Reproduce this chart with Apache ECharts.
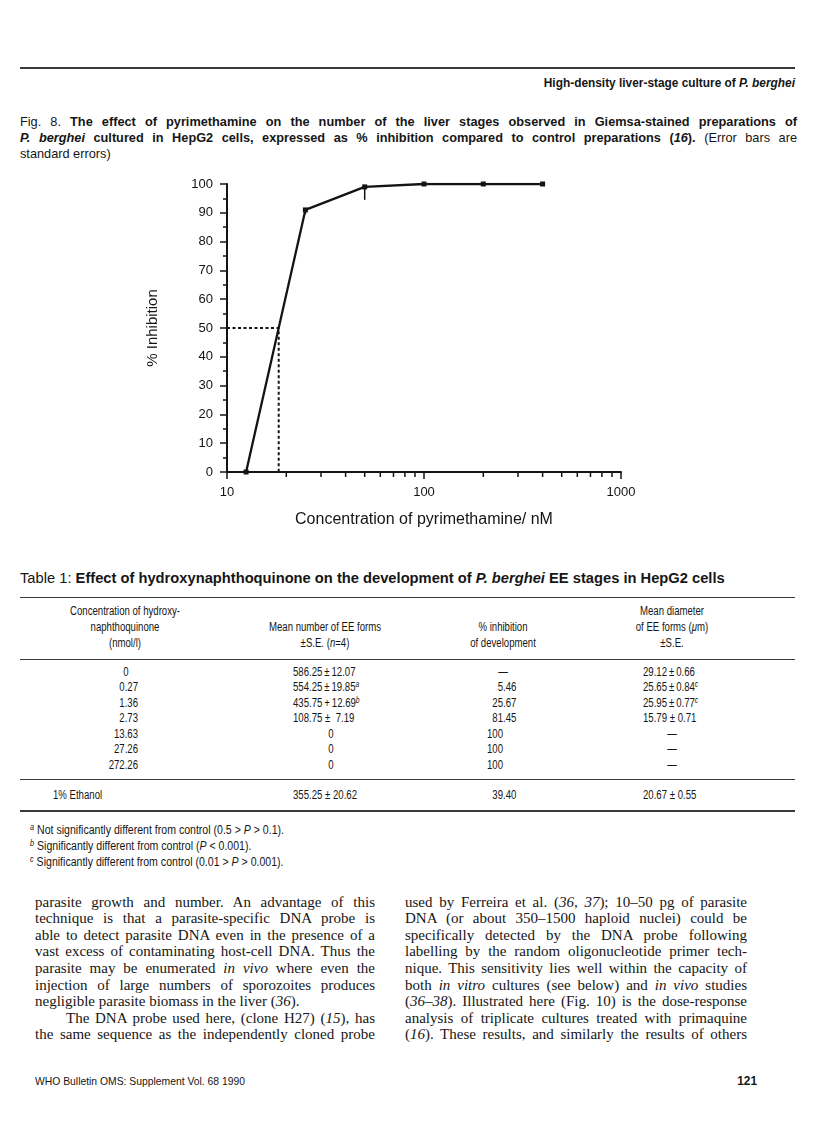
<!DOCTYPE html>
<html><head><meta charset="utf-8">
<script src="https://cdn.jsdelivr.net/npm/echarts@6/dist/echarts.min.js"></script>
<style>
html,body{margin:0;padding:0;background:#fff;}
#page{position:relative;width:816px;height:1126px;overflow:hidden;background:#fff;color:#161616;}
.t{position:absolute;white-space:nowrap;transform-origin:0 0;}
.rule{position:absolute;background:#3a3a3a;}
#chart{position:absolute;left:120px;top:160px;width:540px;height:390px;}
sup{font-size:70%;line-height:0;vertical-align:0.45em;font-style:italic;}
</style></head><body><div id="page"><div id="chart"></div></div>
<script>
// ---------------- chart data (Fig. 8) ----------------
const concentration = [12.5, 25, 50, 100, 200, 400];   // nM pyrimethamine
const inhibition    = [0, 91, 99, 100, 100, 100];       // % inhibition
const stdError      = [0, 1.5, 4.5, 0, 0, 0];           // error bars (lower)
const ic50 = 18.3;                                       // dotted 50% read-off
const halfLevel = 50;
const xMinorTicks = [20,30,40,50,60,70,80,90,200,300,400,500,600,700,800,900];

// ---------------- table data (Table 1) ----------------
const tabConc = ['0','0.27','1.36','2.73','13.63','27.26','272.26'];
const tabMean = ['586.25\u2009±\u200912.07','554.25\u2009±\u200919.85<sup>a</sup>','435.75\u2009+\u200912.69<sup>b</sup>','108.75 ± &nbsp;7.19','0','0','0'];
const tabInhib = ['—','5.46','25.67','81.45','100','100','100'];
const tabDiam = ['29.12\u2009±\u20090.66','25.65\u2009±\u20090.84<sup>c</sup>','25.95\u2009±\u20090.77<sup>c</sup>','15.79 ± 0.71','—','—','—'];
const ethanolRow = ['1% Ethanol','355.25 ± 20.62','39.40','20.67 ± 0.55'];

const page = document.getElementById('page');
function T(html, x, y, o) {
  o = o || {};
  const size = o.size || 11, lh = o.lh || Math.round(size * 1.25), sx = o.sx || 1;
  const d = document.createElement('div');
  d.className = 't';
  d.style.fontSize = size + 'px';
  d.style.lineHeight = lh + 'px';
  d.style.top = (y - lh / 2) + 'px';
  d.style.left = x + 'px';
  d.style.fontFamily = o.serif ? '"Liberation Serif","Times New Roman",serif' : '"Liberation Sans",Arial,Helvetica,sans-serif';
  if (o.bold) d.style.fontWeight = 'bold';
  let tr = sx !== 1 ? 'scaleX(' + sx + ')' : '';
  if (o.align === 'center') tr += ' translateX(-50%)';
  else if (o.align === 'right') tr += ' translateX(-100%)';
  else if (o.align === 'justify') {
    d.style.width = (o.w / sx) + 'px';
    d.style.whiteSpace = 'normal';
    d.style.textAlign = 'justify';
    d.style.textAlignLast = 'justify';
  }
  d.style.transform = tr;
  d.innerHTML = html;
  page.appendChild(d);
}
function R(x, y, w, h) {
  const d = document.createElement('div');
  d.className = 'rule';
  d.style.left = x + 'px'; d.style.top = y + 'px';
  d.style.width = w + 'px'; d.style.height = h + 'px';
  page.appendChild(d);
}

// ---------------- page header & caption ----------------
R(20, 67, 775, 1.5);
T('<b>High-density liver-stage culture of <i>P. berghei</i></b>', 795, 83, {size: 12.5, sx: 0.95, align: 'right'});
const CAP = {size: 13, sx: 0.98, align: 'justify', w: 777};
T('Fig. 8. <b>The effect of pyrimethamine on the number of the liver stages observed in Giemsa-stained preparations of</b>', 20, 122, CAP);
T('<b><i>P. berghei</i> cultured in HepG2 cells, expressed as % inhibition compared to control preparations (<i>16</i>).</b> (Error bars are', 20, 138, CAP);
T('standard errors)', 20, 154, {size: 13, sx: 0.98});

// ---------------- table ----------------
T('Table 1: <b>Effect of hydroxynaphthoquinone on the development of <i>P. berghei</i> EE stages in HepG2 cells</b>', 20, 578, {size: 14, sx: 1.05});
R(20, 597, 775, 1.2);
const HS = {size: 12, sx: 0.8, align: 'center'};
const c1 = 125, c2 = 325, c3 = 503, c4 = 672;
const hy = [611, 627, 643];
T('Concentration of hydroxy-', c1, hy[0], HS);
T('naphthoquinone', c1, hy[1], HS);
T('(nmol/l)', c1, hy[2], HS);
T('Mean number of EE forms', c2, hy[1], HS);
T('±S.E. (<i>n</i>=4)', c2, hy[2], HS);
T('% inhibition', c3, hy[1], HS);
T('of development', c3, hy[2], HS);
T('Mean diameter', c4, hy[0], HS);
T('of EE forms (<i>μ</i>m)', c4, hy[1], HS);
T('±S.E.', c4, hy[2], HS);
R(20, 659, 775, 1.2);
const DS = {size: 12, sx: 0.8};
function decimalCell(v, xDot, y) {
  if (v === '—') { T('—', xDot, y, Object.assign({}, DS, {align: 'center'})); return; }
  const parts = v.split('.');
  T(parts[0], xDot, y, Object.assign({}, DS, {align: 'right'}));
  if (parts.length > 1) T('.' + parts[1], xDot, y, DS);
}
function row(cells, y, first) {
  if (first) T(cells[0], 53, y, DS);
  else if (cells[0] === '0') T('0', 126, y, Object.assign({}, DS, {align: 'center'}));
  else T(cells[0], 138, y, Object.assign({}, DS, {align: 'right'}));
  if (cells[1] === '0') T('0', 331, y, Object.assign({}, DS, {align: 'center'}));
  else T(cells[1], 293, y, DS);
  decimalCell(cells[2], 503, y);
  if (cells[3] === '—') T('—', 672, y, Object.assign({}, DS, {align: 'center'}));
  else T(cells[3], 643, y, DS);
}
const rowY = [672, 687.5, 703, 718.5, 734, 749.5, 765];
for (let i = 0; i < tabConc.length; i++) row([tabConc[i], tabMean[i], tabInhib[i], tabDiam[i]], rowY[i], false);
R(20, 779, 775, 1.2);
row(ethanolRow, 795, true);
R(20, 810, 775, 2);
const FS = {size: 12, sx: 0.88};
T('<sup>a</sup> Not significantly different from control (0.5 &gt; <i>P</i> &gt; 0.1).', 30, 830, FS);
T('<sup>b</sup> Significantly different from control (<i>P</i> &lt; 0.001).', 30, 846, FS);
T('<sup>c</sup> Significantly different from control (0.01 &gt; <i>P</i> &gt; 0.001).', 30, 862, FS);

// ---------------- body text ----------------
const leftCol = [
  'parasite growth and number. An advantage of this',
  'technique is that a parasite-specific DNA probe is',
  'able to detect parasite DNA even in the presence of a',
  'vast excess of contaminating host-cell DNA. Thus the',
  'parasite may be enumerated <i>in vivo</i> where even the',
  'injection of large numbers of sporozoites produces',
  'negligible parasite biomass in the liver (<i>36</i>).',
  'The DNA probe used here, (clone H27) (<i>15</i>), has',
  'the same sequence as the independently cloned probe'
];
const rightCol = [
  'used by Ferreira et al. (<i>36</i>, <i>37</i>); 10–50 pg of parasite',
  'DNA (or about 350–1500 haploid nuclei) could be',
  'specifically detected by the DNA probe following',
  'labelling by the random oligonucleotide primer tech-',
  'nique. This sensitivity lies well within the capacity of',
  'both <i>in vitro</i> cultures (see below) and <i>in vivo</i> studies',
  '(<i>36–38</i>). Illustrated here (Fig. 10) is the dose-response',
  'analysis of triplicate cultures treated with primaquine',
  '(<i>16</i>). These results, and similarly the results of others'
];
const BS = {size: 15, lh: 17, serif: true};
for (let i = 0; i < leftCol.length; i++) {
  const y = 902 + i * 16.6;
  if (i === 6) T(leftCol[i], 35, y, BS);
  else if (i === 7) T(leftCol[i], 66, y, Object.assign({}, BS, {align: 'justify', w: 309}));
  else T(leftCol[i], 35, y, Object.assign({}, BS, {align: 'justify', w: 340}));
}
for (let i = 0; i < rightCol.length; i++) {
  const y = 902 + i * 16.6;
  T(rightCol[i], 405, y, Object.assign({}, BS, {align: 'justify', w: 342}));
}

// ---------------- footer ----------------
T('WHO Bulletin OMS: Supplement Vol. 68 1990', 35, 1081, {size: 11.5, sx: 0.9});
T('<b>121</b>', 757, 1081, {size: 12.5, sx: 0.95, align: 'right'});

// ---------------- chart ----------------
const FONT = '"Liberation Sans", Arial, Helvetica, sans-serif';
const INK = '#141414';
const chart = echarts.init(document.getElementById('chart'), null, {renderer: 'canvas'});
chart.setOption({
  animation: false,
  grid: {left: 107, top: 24, width: 394, height: 288, outerBoundsMode: 'none'},
  xAxis: {
    type: 'log', logBase: 10, min: 10, max: 1000,
    axisLine: {show: true, onZero: false, lineStyle: {color: INK, width: 2}},
    axisTick: {show: true, length: 7, lineStyle: {color: INK, width: 1.5}},
    axisLabel: {fontSize: 13, color: INK, margin: 14, fontFamily: FONT, formatter: function (v) { return String(Math.round(v)); }},
    splitLine: {show: false},
    name: 'Concentration of pyrimethamine/ nM', nameLocation: 'middle', nameGap: 40,
    nameTextStyle: {fontSize: 16, color: INK, fontFamily: FONT}
  },
  yAxis: {
    type: 'value', min: 0, max: 100, interval: 10,
    axisLine: {show: true, onZero: false, lineStyle: {color: INK, width: 2}},
    axisTick: {show: true, length: 7, lineStyle: {color: INK, width: 1.5}},
    minorTick: {show: true, splitNumber: 2, length: 4, lineStyle: {color: INK, width: 1.5}},
    axisLabel: {fontSize: 13, color: INK, margin: 14, fontFamily: FONT},
    splitLine: {show: false}, minorSplitLine: {show: false},
    name: '% Inhibition', nameLocation: 'middle', nameGap: 67, nameRotate: 90,
    nameTextStyle: {fontSize: 15, color: INK, fontFamily: FONT}
  },
  series: [
    {
      type: 'line', data: [[10, halfLevel], [ic50, halfLevel], [ic50, 0]],
      symbol: 'none', silent: true, z: 2,
      lineStyle: {color: INK, width: 2, type: [3, 2.5]}
    },
    {
      type: 'line', data: concentration.map(function (c, i) { return [c, inhibition[i]]; }),
      symbol: 'rect', symbolSize: 5, z: 3, silent: true,
      itemStyle: {color: INK}, lineStyle: {color: INK, width: 2.3}
    },
    {
      type: 'custom', z: 4, silent: true,
      data: concentration.map(function (c, i) { return [c, inhibition[i], inhibition[i] - stdError[i]]; }).filter(function (d, i) { return stdError[i] > 0; }),
      renderItem: function (params, api) {
        const a = api.coord([api.value(0), api.value(1)]);
        const b = api.coord([api.value(0), api.value(2)]);
        return {type: 'line', shape: {x1: a[0], y1: a[1], x2: b[0], y2: b[1]}, style: {stroke: INK, lineWidth: 1.5}};
      }
    },
    {
      type: 'custom', z: 4, silent: true,
      data: xMinorTicks.map(function (v) { return [v, 0]; }),
      renderItem: function (params, api) {
        const p = api.coord([api.value(0), api.value(1)]);
        return {type: 'line', shape: {x1: p[0], y1: p[1] - 1, x2: p[0], y2: p[1] + 5}, style: {stroke: INK, lineWidth: 1.5}};
      }
    }
  ]
});
</script></body></html>
